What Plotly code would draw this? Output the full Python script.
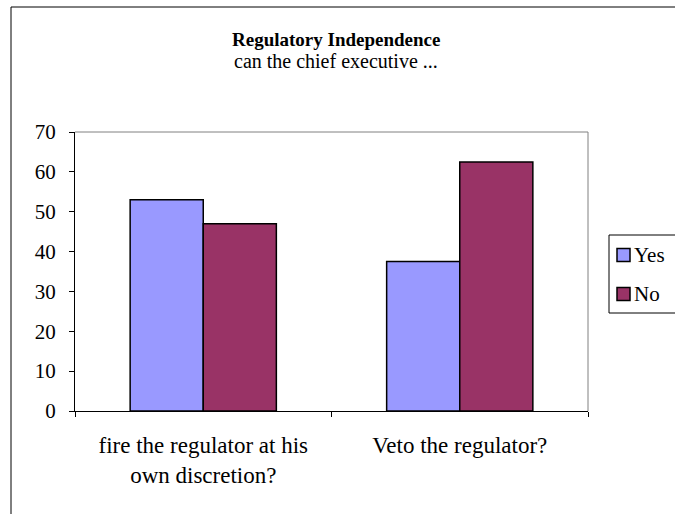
import plotly.graph_objects as go

categories = ["fire the regulator at his<br>own discretion?", "Veto the regulator?"]
series_names = ["Yes", "No"]
yes_values = [53, 37.5]
no_values = [47, 62.5]
y_ticks = [0, 10, 20, 30, 40, 50, 60, 70]
title_text = "Regulatory Independence"
subtitle_text = "can the chief executive ..."

COLORS = ["#9999FF", "#993366"]

W, H = 675, 514
L, R, T, B = 75, 87, 132, 103
pw, ph = W - L - R, H - T - B

def px_x(x):
    return (x - L) / pw

def px_y(y):
    return (H - B - y) / ph

FONT = "Liberation Serif, Times New Roman, serif"

fig = go.Figure()
for name, vals, col in zip(series_names, [yes_values, no_values], COLORS):
    fig.add_trace(go.Bar(name=name, x=categories, y=vals,
                         marker=dict(color=col, line=dict(color="black", width=1.5))))

shapes = [
    dict(type="line", xref="paper", yref="paper", x0=0, x1=1, y0=1, y1=1,
         line=dict(color="#808080", width=1)),
    dict(type="line", xref="paper", yref="paper", x0=1, x1=1, y0=0, y1=1,
         line=dict(color="#808080", width=1)),
    dict(type="rect", xref="paper", yref="paper", x0=px_x(11), x1=px_x(720),
         y0=px_y(560), y1=px_y(7), line=dict(color="black", width=1),
         fillcolor="rgba(0,0,0,0)", layer="below"),
    # legend box
    dict(type="rect", xref="paper", yref="paper", x0=px_x(609), x1=px_x(720),
         y0=px_y(313), y1=px_y(235), line=dict(color="black", width=1),
         fillcolor="white"),
]
annotations = [
    dict(text="<b>" + title_text + "</b>", xref="paper", yref="paper",
         x=px_x(336), y=px_y(39), xanchor="center", yanchor="middle",
         showarrow=False, font=dict(family=FONT, size=19, color="black")),
    dict(text=subtitle_text, xref="paper", yref="paper",
         x=px_x(336), y=px_y(61), xanchor="center", yanchor="middle",
         showarrow=False, font=dict(family=FONT, size=20, color="black")),
]
legend_rows = [255, 294]
for name, col, yc in zip(series_names, COLORS, legend_rows):
    shapes.append(dict(type="rect", xref="paper", yref="paper",
                       x0=px_x(617), x1=px_x(630), y0=px_y(yc + 6.5), y1=px_y(yc - 6.5),
                       line=dict(color="black", width=1.5), fillcolor=col))
    annotations.append(dict(text=name, xref="paper", yref="paper",
                            x=px_x(632), y=px_y(yc), xanchor="left", yanchor="middle",
                            showarrow=False, font=dict(family=FONT, size=21, color="black")))

fig.update_layout(
    width=W, height=H,
    margin=dict(l=L, r=R, t=T, b=B, pad=0, autoexpand=False),
    paper_bgcolor="white", plot_bgcolor="white",
    barmode="group", bargap=0.43, bargroupgap=0,
    font=dict(family=FONT, size=21, color="black"),
    showlegend=False,
    xaxis=dict(type="category", showline=True, linecolor="black", linewidth=1,
               ticks="outside", ticklen=5, tickcolor="black", tickson="boundaries",
               showgrid=False, tickfont=dict(family=FONT, size=23, color="black"),
               ticklabelstandoff=13, fixedrange=True),
    yaxis=dict(range=[0, 70], tickvals=y_ticks, showline=True, linecolor="black",
               linewidth=1, ticks="outside", ticklen=5, tickcolor="black",
               showgrid=False, zeroline=False,
               tickfont=dict(family=FONT, size=21, color="black"),
               ticklabelstandoff=9, fixedrange=True),
    shapes=shapes,
    annotations=annotations,
)

fig.write_html("out.html", config={"displayModeBar": False})
